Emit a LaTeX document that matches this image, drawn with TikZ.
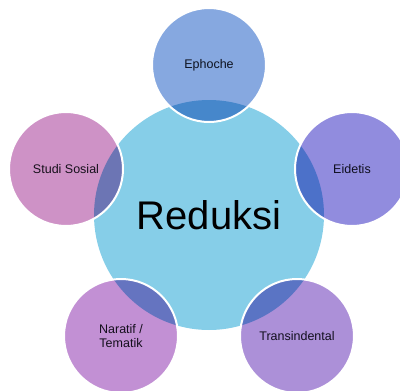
\documentclass[tikz,border=0pt]{standalone}
\usepackage{fontspec}
\setmainfont{Liberation Sans}
\usetikzlibrary{calc}
\definecolor{hubblue}{HTML}{86CEE8}
\definecolor{ephblue}{HTML}{86A8E0}
\definecolor{eidviolet}{HTML}{918CDE}
\definecolor{tralilac}{HTML}{AC90D8}
\definecolor{narorchid}{HTML}{C290D4}
\definecolor{stupink}{HTML}{CE92C6}
\definecolor{labelgrey}{HTML}{1C1C24}
\begin{document}
\begin{tikzpicture}[x=1pt,y=-1pt]
    \tikzset{petal/.style={circle, minimum size=114pt, inner sep=0pt, align=center,
        font=\fontsize{12.5}{14}\selectfont, text=labelgrey}}
    \tikzset{rim/.style={draw=white, line width=2pt}}

    \useasboundingbox (0,0) rectangle (400,391);

    \begin{scope}[blend group=multiply]
      \node [circle, fill=hubblue, minimum size=230pt, inner sep=0pt,
        font=\fontsize{40}{44}\selectfont] (reduksi) at (209,215) {Reduksi};
      \node [petal, fill=ephblue] (ephoche) at ($(reduksi)+(0,-150)$) {Ephoche};
      \node [petal, fill=eidviolet] (eidetis) at ($(reduksi)+(143,-46)$) {Eidetis};
      \node [petal, fill=tralilac] (trans) at ($(reduksi)+(88,121)$) {Transindental};
      \node [petal, fill=narorchid] (naratif) at ($(reduksi)+(-88,121)$) {Naratif /\\Tematik};
      \node [petal, fill=stupink] (studi) at ($(reduksi)+(-143,-46)$) {Studi Sosial};
    \end{scope}

    \draw [rim] (ephoche.center) circle [radius=57];
    \draw [rim] (eidetis.center) circle [radius=57];
    \draw [rim] (trans.center) circle [radius=57];
    \draw [rim] (naratif.center) circle [radius=57];
    \draw [rim] (studi.center) circle [radius=57];
  \end{tikzpicture}
\end{document}
